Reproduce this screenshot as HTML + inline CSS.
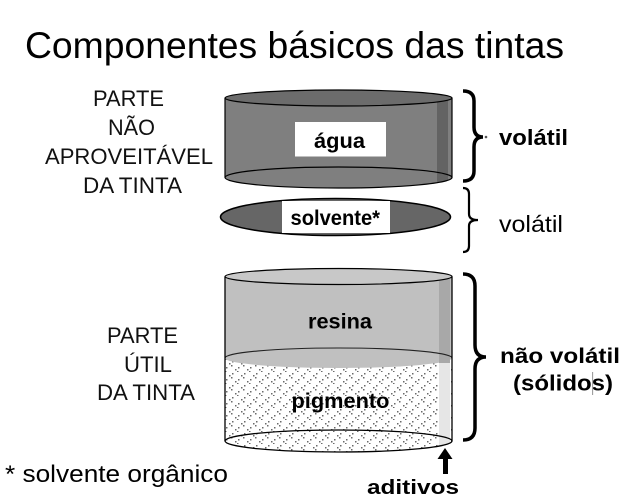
<!DOCTYPE html>
<html>
<head>
<meta charset="utf-8">
<style>
html,body{margin:0;padding:0;background:#fff;}
svg{display:block;}
text{font-family:"Liberation Sans",Arial,sans-serif;}
</style>
</head>
<body>
<svg width="626" height="501" viewBox="0 0 626 501" xmlns="http://www.w3.org/2000/svg">
<defs>
<pattern id="dots" x="0" y="0" width="12" height="12" patternUnits="userSpaceOnUse">
<rect width="12" height="12" fill="#fff"/>
<rect x="1" y="3" width="1.5" height="1.5" fill="#6a6a6a"/>
<rect x="4" y="1" width="1.5" height="1.5" fill="#6a6a6a"/>
<rect x="3" y="5" width="1.5" height="1.5" fill="#6a6a6a"/>
<rect x="7" y="9" width="1.5" height="1.5" fill="#6a6a6a"/>
<rect x="10" y="7" width="1.5" height="1.5" fill="#6a6a6a"/>
<rect x="9" y="11" width="1.5" height="1.5" fill="#6a6a6a"/>
</pattern>
<clipPath id="topBody">
<path d="M225,98 L225,177.5 A113.5,10.5 0 0 0 452,177.5 L452,98 Z"/>
</clipPath>
<clipPath id="botBody">
<path d="M225,276.5 L225,441 A113.5,11 0 0 0 452,441 L452,276.5 Z"/>
</clipPath>
</defs>

<!-- Title -->
<text x="25" y="58" font-size="37.5" textLength="539" lengthAdjust="spacingAndGlyphs">Componentes básicos das tintas</text>

<!-- Left labels -->
<g font-size="22" fill="#111">
<text x="93" y="106" textLength="71" lengthAdjust="spacingAndGlyphs">PARTE</text>
<text x="108" y="135" textLength="47" lengthAdjust="spacingAndGlyphs">NÃO</text>
<text x="45" y="164" textLength="168" lengthAdjust="spacingAndGlyphs">APROVEITÁVEL</text>
<text x="83" y="193" textLength="99" lengthAdjust="spacingAndGlyphs">DA TINTA</text>
<text x="107" y="343" textLength="71" lengthAdjust="spacingAndGlyphs">PARTE</text>
<text x="124" y="372" textLength="48" lengthAdjust="spacingAndGlyphs">ÚTIL</text>
<text x="97" y="400" textLength="98" lengthAdjust="spacingAndGlyphs">DA TINTA</text>
</g>
<text x="5" y="482" font-size="24" textLength="223" lengthAdjust="spacingAndGlyphs">* solvente orgânico</text>

<!-- Top cylinder (água) -->
<path d="M225,98 L225,177.5 A113.5,10.5 0 0 0 452,177.5 L452,98 Z" fill="#7f7f7f"/>
<rect x="437" y="100" width="11" height="90" fill="#636363" clip-path="url(#topBody)"/>
<path d="M225,177.5 A113.5,10.5 0 0 1 452,177.5" fill="none" stroke="#000" stroke-width="1.2"/>
<path d="M225,98 L225,177.5 A113.5,10.5 0 0 0 452,177.5 L452,98" fill="none" stroke="#000" stroke-width="1.2"/>
<ellipse cx="338.5" cy="98" rx="113.5" ry="8" fill="#6c6c6c" stroke="#000" stroke-width="1.2"/>
<rect x="295" y="122" width="91" height="34.5" fill="#fff"/>
<text x="314" y="148" font-size="21" font-weight="bold" textLength="51" lengthAdjust="spacingAndGlyphs">água</text>

<!-- Solvente disc -->
<ellipse cx="335.5" cy="217" rx="115" ry="18.5" fill="#666" stroke="#000" stroke-width="1.5"/>
<rect x="282" y="201" width="108" height="32" fill="#fff"/>
<text x="290.5" y="225" font-size="21" font-weight="bold" textLength="89.5" lengthAdjust="spacingAndGlyphs">solvente*</text>

<!-- Bottom cylinder -->
<path d="M225,276.5 L225,441 A113.5,11 0 0 0 452,441 L452,276.5 Z" fill="url(#dots)"/>
<path d="M225,276.5 L225,358 A113.5,10 0 0 0 452,358 L452,276.5 Z" fill="#c0c0c0"/>
<g clip-path="url(#botBody)">
<rect x="439" y="279" width="11" height="84" fill="#a8a8a8"/>
<rect x="439" y="363" width="11" height="95" fill="#e6e6e6"/>
</g>
<path d="M225,358 A113.5,10 0 0 1 452,358" fill="none" stroke="#222" stroke-width="1.1"/>
<path d="M225,441 A113.5,11 0 0 1 452,441" fill="none" stroke="#000" stroke-width="1.3"/>
<path d="M225,276.5 L225,441 A113.5,11 0 0 0 452,441 L452,276.5" fill="none" stroke="#000" stroke-width="1.3"/>
<ellipse cx="338.5" cy="276.5" rx="113.5" ry="8" fill="#c8c8c8" stroke="#000" stroke-width="1.2"/>
<text x="308" y="328.5" font-size="21" font-weight="bold" textLength="64" lengthAdjust="spacingAndGlyphs">resina</text>
<text x="291.5" y="408" font-size="21" font-weight="bold" textLength="98" lengthAdjust="spacingAndGlyphs">pigmento</text>

<!-- aditivos arrow -->
<polygon points="437.5,459 445,448 452.5,459" fill="#000"/>
<rect x="443" y="458" width="5" height="16" fill="#000"/>
<text x="367" y="494" font-size="20" font-weight="bold" textLength="92" lengthAdjust="spacingAndGlyphs">aditivos</text>

<!-- Braces -->
<path d="M463,91 Q474,91 474,101 L474,127 Q474,137 483,137 Q474,137 474,147 L474,171 Q474,181 463,181" fill="none" stroke="#000" stroke-width="3.5"/>
<circle cx="486" cy="137" r="1.3" fill="#555"/>
<path d="M463,188 Q469,188 469,194 L469,214 Q469,220 478,220 Q469,220 469,226 L469,246 Q469,252 463,252" fill="none" stroke="#000" stroke-width="2.2"/>
<path d="M463,274 Q475,274 475,286 L475,345 Q475,357 486,357 Q475,357 475,369 L475,428 Q475,440 463,440" fill="none" stroke="#000" stroke-width="3.5"/>

<!-- Right labels -->
<text x="499" y="145" font-size="22" font-weight="bold" textLength="69" lengthAdjust="spacingAndGlyphs">volátil</text>
<text x="499" y="232" font-size="23" textLength="64" lengthAdjust="spacingAndGlyphs">volátil</text>
<text x="500" y="363" font-size="21.5" font-weight="bold" textLength="120" lengthAdjust="spacingAndGlyphs">não volátil</text>
<text x="513" y="390.5" font-size="22" font-weight="bold" textLength="100" lengthAdjust="spacingAndGlyphs">(sólidos)</text>
<line x1="592.7" y1="372" x2="592.7" y2="395" stroke="#777" stroke-width="0.8"/>
</svg>
</body>
</html>
